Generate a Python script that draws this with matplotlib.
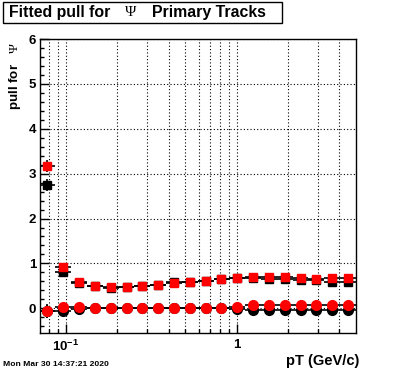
#!/usr/bin/env python3

import numpy as np
import matplotlib
matplotlib.use("Agg")
import matplotlib.pyplot as plt
from matplotlib.patches import Rectangle
from matplotlib.ticker import FixedLocator, NullFormatter, MultipleLocator

plt.rcParams['font.family'] = ['Liberation Sans', 'DejaVu Sans']
plt.rcParams['mathtext.fontset'] = 'custom'
plt.rcParams['mathtext.rm'] = 'Liberation Serif'
plt.rcParams['mathtext.bf'] = 'Liberation Sans:bold'

# pT bin edges (GeV/c), 20 log bins
pt_edges = [0.07, 0.0867, 0.1073, 0.1328, 0.1644, 0.2035, 0.2519, 0.3118, 0.3860,
            0.4778, 0.5915, 0.7322, 0.9064, 1.1220, 1.3889, 1.7193, 2.1283,
            2.6346, 3.2614, 4.0373, 5.0]

# fitted widths (squares) and means (circles)
black_sq = [2.75, 0.80, 0.57, 0.49, 0.46, 0.47, 0.49, 0.52, 0.58, 0.59,
            0.61, 0.65, 0.67, 0.67, 0.66, 0.65, 0.63, 0.64, 0.58, 0.58]
red_sq = [3.17, 0.92, 0.58, 0.50, 0.47, 0.48, 0.50, 0.53, 0.56, 0.59,
          0.61, 0.66, 0.68, 0.70, 0.70, 0.70, 0.67, 0.66, 0.68, 0.67]
black_circ = [-0.06, -0.05, -0.02, 0.0, 0.0, 0.0, 0.0, 0.0, 0.0, 0.0,
              0.0, 0.0, -0.02, -0.03, -0.04, -0.04, -0.04, -0.04, -0.04, -0.03]
red_circ = [-0.07, 0.04, 0.04, 0.01, 0.01, 0.01, 0.01, 0.01, 0.01, 0.01,
            0.01, 0.01, 0.04, 0.07, 0.07, 0.07, 0.07, 0.07, 0.07, 0.07]
sq_err = [0.13, 0.05, 0.02, 0.02, 0.02, 0.02, 0.02, 0.02, 0.02, 0.02,
          0.02, 0.02, 0.02, 0.02, 0.02, 0.02, 0.02, 0.02, 0.02, 0.02]
circ_err = [0.15, 0.04, 0.01, 0.01, 0.01, 0.01, 0.01, 0.01, 0.01, 0.01,
            0.01, 0.01, 0.01, 0.01, 0.01, 0.01, 0.01, 0.01, 0.01, 0.01]

edges = np.array(pt_edges)
pt = np.sqrt(edges[:-1] * edges[1:])
xerr = [pt - edges[:-1], edges[1:] - pt]

W, H = 396, 372
fig = plt.figure(figsize=(W / 100, H / 100), dpi=100)
ax = fig.add_axes([39.5 / W, 1 - 333 / H, (356 - 39.5) / W, (333 - 39) / H])

series = [
    (black_sq, sq_err, 's', 'black', 6),
    (black_circ, circ_err, 'o', 'black', 7),
    (red_sq, sq_err, 's', 'red', 6),
    (red_circ, circ_err, 'o', 'red', 7),
]
for vals, err, mk, col, ms in series:
    ax.errorbar(pt, vals, xerr=xerr, yerr=err, fmt=mk, mfc=col, mec=col, ms=ms,
                ecolor='black', elinewidth=1.2, capsize=0, zorder=3)

ax.set_xscale('log')
ax.set_xlim(0.07, 5.0)
ax.set_ylim(-0.55, 6.0)

ax.xaxis.set_major_locator(FixedLocator([0.1, 1.0]))
ax.xaxis.set_minor_locator(FixedLocator([0.08, 0.09, 0.2, 0.3, 0.4, 0.5, 0.6, 0.7,
                                         0.8, 0.9, 2, 3, 4]))
ax.xaxis.set_minor_formatter(NullFormatter())
ax.set_xticklabels([r'$\mathbf{10^{-1}}$', '1'])
ax.yaxis.set_major_locator(MultipleLocator(1))
ax.yaxis.set_minor_locator(MultipleLocator(0.2))

ax.tick_params(which='both', direction='in', top=False, right=False, width=1,
               labelsize=9.5)
ax.tick_params(axis='y', pad=2.5)
ax.tick_params(axis='x', pad=4)
ax.tick_params(which='major', length=6.5)
ax.tick_params(which='minor', length=3.2)
for lbl in ax.get_xticklabels() + ax.get_yticklabels():
    lbl.set_fontweight('bold')

ax.xaxis.grid(True, which='both', linestyle=(0, (1, 2)), color='k', lw=0.8)
ax.yaxis.grid(True, which='major', linestyle=(0, (1, 2)), color='k', lw=0.8)
ax.set_axisbelow(True)
for sp in ax.spines.values():
    sp.set_linewidth(1)

# axis titles
fig.text(359 / W, 1 - 361 / H, 'pT (GeV/c)', ha='right', va='center',
         fontsize=10.5, fontweight='bold')
fig.text(15 / W, 1 - 42 / H, r'pull for   $\Psi$', rotation=90, ha='center',
         va='top', fontsize=9.6, fontweight='bold')

# title box
fig.patches.append(Rectangle((3 / W, 1 - 23 / H), 279 / W, 21 / H,
                             transform=fig.transFigure, fc='white', ec='black',
                             lw=1))
fig.text(9 / W, 1 - 12.5 / H, 'Fitted pull for', ha='left', va='center',
         fontsize=11.4, fontweight='bold')
fig.text(131 / W, 1 - 12.5 / H, 'Ψ', ha='center', va='center',
         fontsize=11, family='Liberation Serif')
fig.text(152 / W, 1 - 12.5 / H, 'Primary Tracks', ha='left', va='center',
         fontsize=11.4, fontweight='bold')

fig.text(3 / W, 1 - 365 / H, 'Mon Mar 30 14:37:21 2020', ha='left', va='center',
         fontsize=6.1, fontweight='bold')

fig.savefig('out.png', dpi=100)
